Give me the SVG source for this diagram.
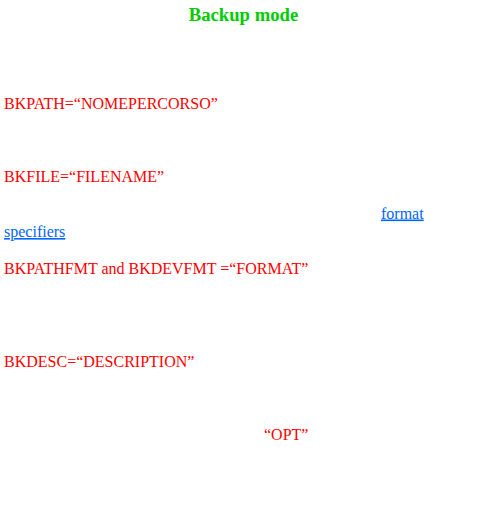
<svg xmlns="http://www.w3.org/2000/svg" width="488" height="520" viewBox="0 0 488 520">
<style>
text{font-family:"Liberation Serif","Times New Roman",serif;font-size:16px}
.t{font-size:18.67px;font-weight:bold;fill:#00cc00}
.r{fill:#ff0000}
.l{fill:#0066ff;text-decoration:underline}
</style>
<rect width="488" height="520" fill="#ffffff"/>
<g id="title"><text class="t" x="243.5" y="20.5" text-anchor="middle">Backup mode</text></g>
<g id="bkpath"><text class="r" x="4" y="108.5">BKPATH=“NOMEPERCORSO”</text></g>
<g id="bkfile"><text class="r" x="4" y="181.5">BKFILE=“FILENAME”</text></g>
<g id="link">
<text class="l" x="381" y="218.5">format</text>
<text class="l" x="4" y="237">specifiers</text>
</g>
<g id="bkfmt"><text class="r" x="4" y="274">BKPATHFMT and BKDEVFMT =“FORMAT”</text></g>
<g id="bkdesc"><text class="r" x="4" y="366.5">BKDESC=“DESCRIPTION”</text></g>
<g id="opt"><text class="r" x="264" y="439.5">“OPT”</text></g>
<g id="connectors"></g>
</svg>
